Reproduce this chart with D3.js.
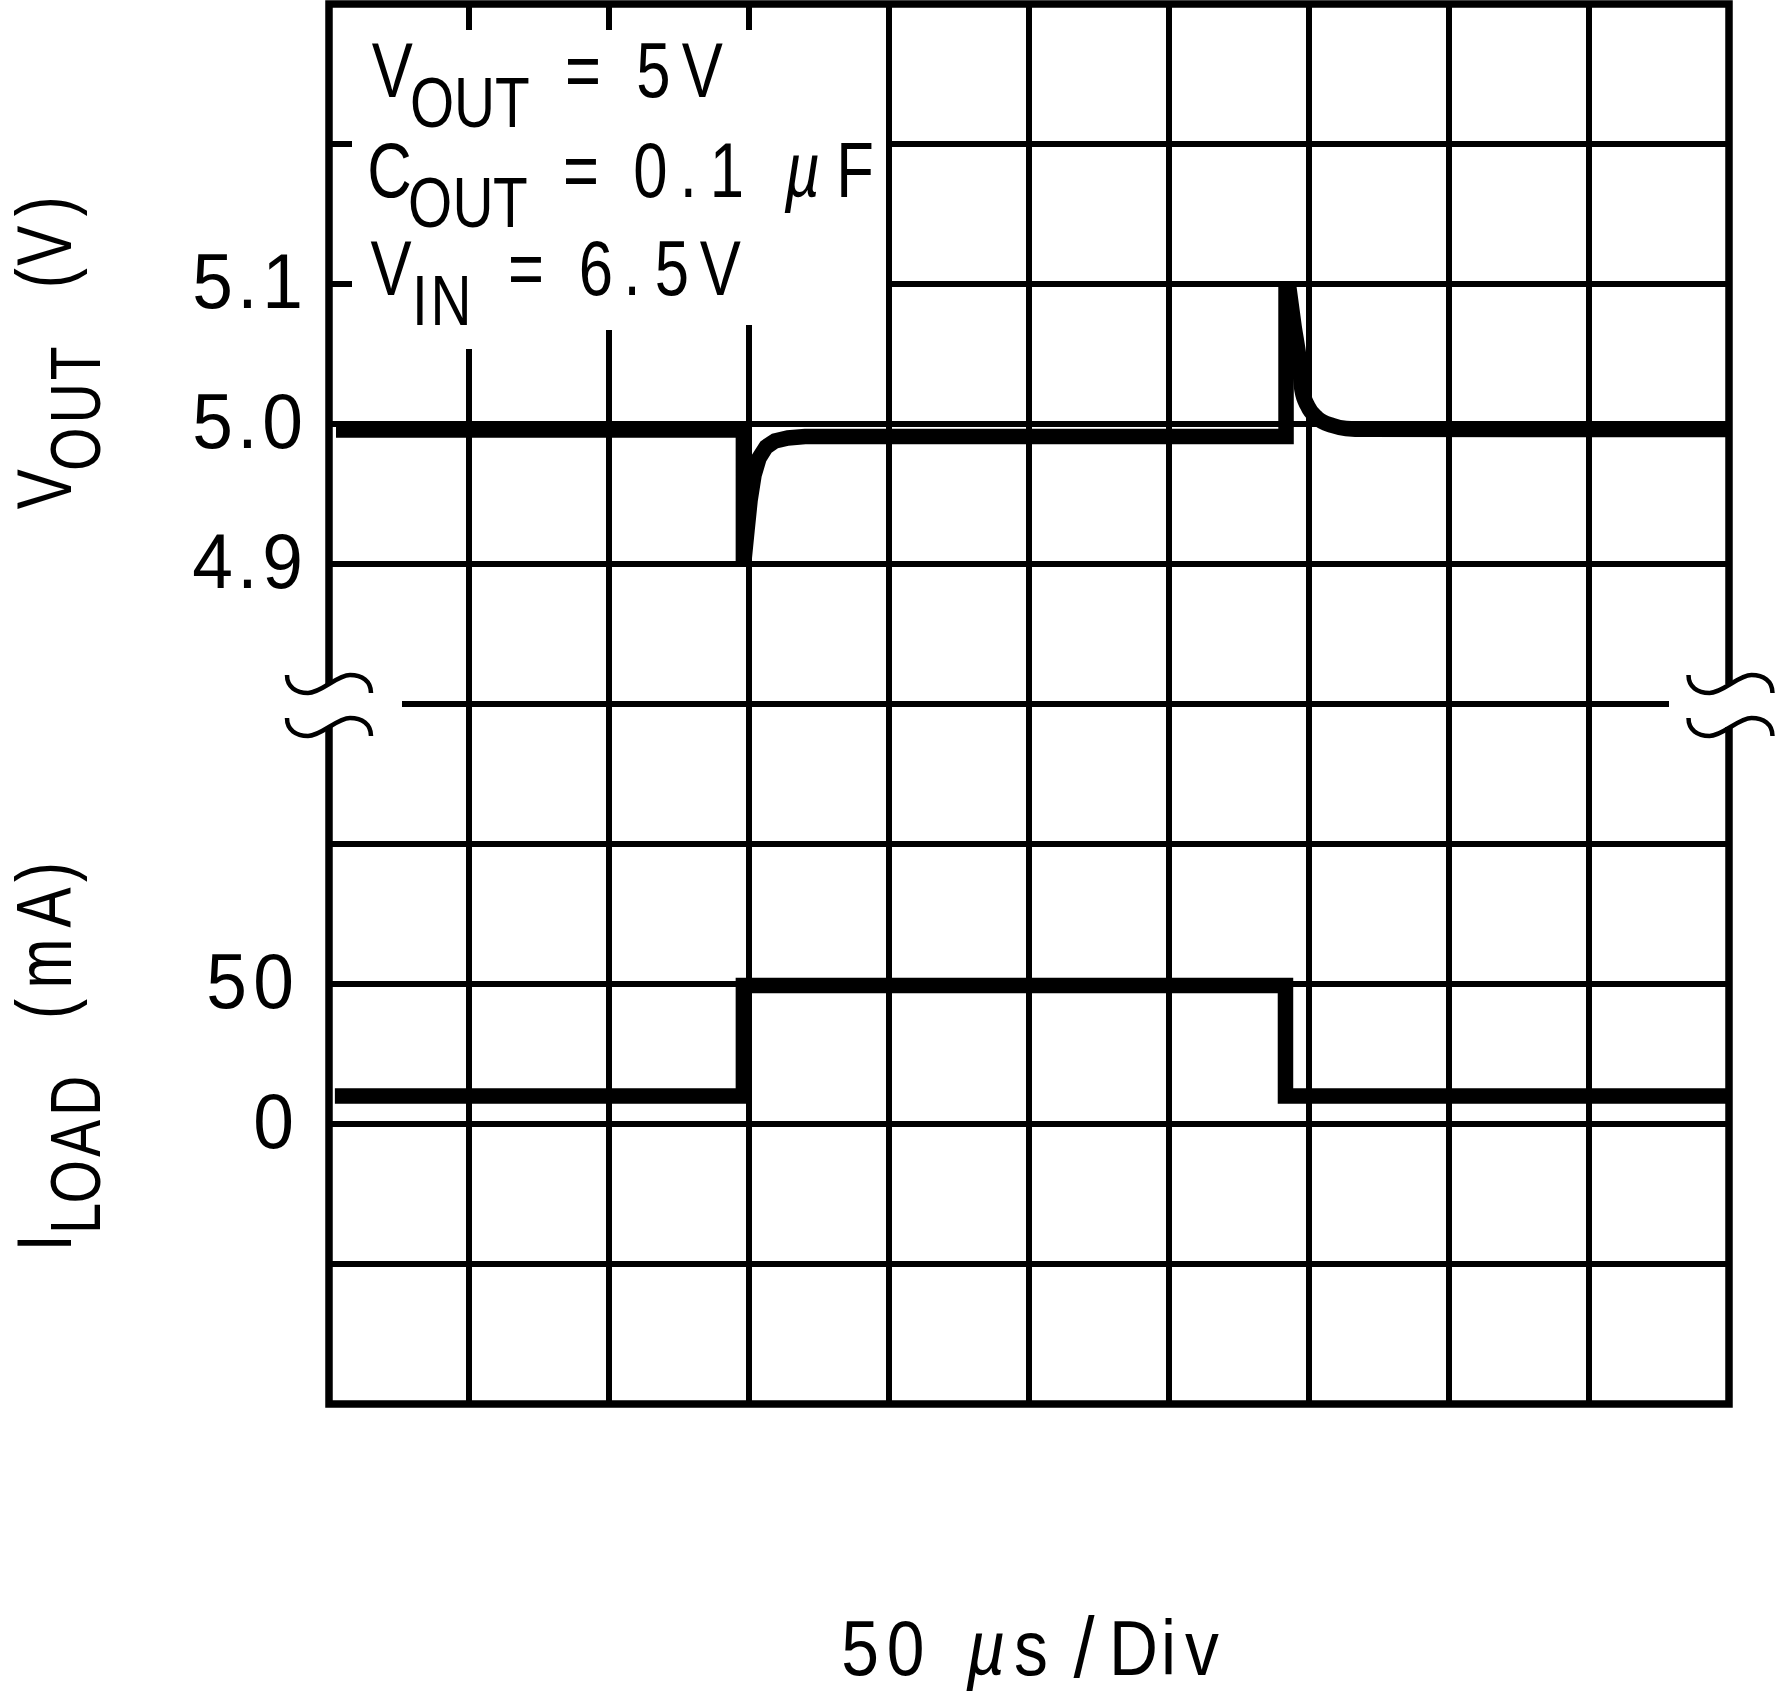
<!DOCTYPE html>
<html>
<head>
<meta charset="utf-8">
<script src="https://cdn.jsdelivr.net/npm/d3@7"></script>
<style>
html, body { margin: 0; padding: 0; background: #fff; }
svg { display: block; }
text { white-space: pre; }
</style>
</head>
<body>
<svg id="chart" width="1775" height="1696"></svg>
<script>
// ---------------- data ----------------
const timeDomain = [0, 500];            // µs, 50 µs / div, 10 divisions
const vDomain = [4.9, 5.1];             // V, 0.1 V / div
const iDomain = [0, 50];                // mA, 50 mA / div
const vTicks = [4.9, 5.0, 5.1];
const iTicks = [0, 50];

// load current step (mA)
const iLoadTime = [2.1, 148.0, 148.0, 341.6, 341.6, 499.6];
const iLoadMA   = [10, 10, 49.5, 49.5, 10, 10];

// output voltage: level, undershoot and recovery, loaded level, step up to the overshoot peak
const vMainTime = [2.5, 148.0, 148.0, 149.3, 150.4, 151.8, 153.6, 156.1, 159.3, 163.9, 170.0, 341.8, 341.8];
const vMainV    = [4.9958, 4.9958, 4.8985, 4.9243, 4.9457, 4.9636, 4.9757, 4.9836, 4.9879, 4.9900, 4.9910, 4.9910, 5.1];
// overshoot decay and settling back to nominal
const vDecayTime = [342.7, 344.7, 346.5, 347.5, 349.5, 352.9, 358.4, 363.2, 370.0, 499.6];
const vDecayV    = [5.099, 5.0693, 5.0457, 5.0243, 5.0129, 5.0043, 4.9989, 4.9968, 4.9962, 4.9960];

// texts
const noteMain = ["V", "C", "V"];
const noteSub  = ["OUT", "OUT", "IN"];
const noteRest = [" = 5V ", " = 0.1 µF ", " = 6.5V"];
const xTitle = ["50 µs", "/", "Div"];
const vTitle = ["V", "OUT", " (V)"];
const iTitle = ["I", "LOAD", " (mA)"];

// ---------------- layout ----------------
const FONT = "'Liberation Sans', Arial, Helvetica, sans-serif";
const SX = 0.85;           // default horizontal condensing of the lettering
const FS = 77, FSUB = 71;
const X0 = 329, X1 = 1729, Y0 = 4, Y1 = 1404;

const svg = d3.select("#chart");
svg.append("rect").attr("width", 1775).attr("height", 1696).attr("fill", "#fff");

const x = d3.scaleLinear().domain(timeDomain).range([X0, X1]);
const yV = d3.scaleLinear().domain(vDomain).range([Y0 + 560, Y0 + 280]);
const yI = d3.scaleLinear().domain(iDomain).range([Y0 + 1120, Y0 + 980]);

// ---- grid ----
const grid = svg.append("g").attr("stroke", "#000").attr("stroke-width", 6).attr("fill", "none");
const colTimes = d3.range(1, 10).map(k => k * 50);
grid.selectAll("line.v").data(colTimes).join("line")
  .attr("x1", d => x(d)).attr("x2", d => x(d)).attr("y1", Y0).attr("y2", Y1);
const rowsV = [5.2, 5.1, 5.0, 4.9];
const rowsI = [100, 50, 0, -50];
grid.selectAll("line.hv").data(rowsV).join("line")
  .attr("x1", X0).attr("x2", X1).attr("y1", d => yV(d)).attr("y2", d => yV(d));
grid.append("line").attr("x1", 402).attr("x2", 1669).attr("y1", yV(4.8)).attr("y2", yV(4.8));
grid.selectAll("line.hi").data(rowsI).join("line")
  .attr("x1", X0).attr("x2", X1).attr("y1", d => yI(d)).attr("y2", d => yI(d));

// white box behind the conditions text
const mask = svg.append("g").attr("fill", "#fff");
mask.append("rect").attr("x", 352).attr("y", 30).attr("width", 534).attr("height", 295);
mask.append("rect").attr("x", 445).attr("y", 320).attr("width", 50).attr("height", 29);
mask.append("rect").attr("x", 590).attr("y", 320).attr("width", 40).attr("height", 10);

// ---- traces ----
const zip = (a, b) => a.map((d, i) => [d, b[i]]);
const lineV = d3.line().x(d => x(d[0])).y(d => yV(d[1]));
const lineVs = d3.line().x(d => x(d[0])).y(d => yV(d[1])).curve(d3.curveMonotoneX);
const lineI = d3.line().x(d => x(d[0])).y(d => yI(d[1]));
const traces = svg.append("g").attr("fill", "none").attr("stroke", "#000")
  .attr("stroke-linejoin", "miter").attr("stroke-linecap", "butt").attr("stroke-width", 15.5);
traces.append("path").attr("d", lineI(zip(iLoadTime, iLoadMA)));
traces.append("path").attr("d", lineV(zip(vMainTime, vMainV)));
traces.append("path").attr("d", lineVs(zip(vDecayTime, vDecayV))).attr("stroke-linejoin", "round");

// ---- frame with axis breaks ----
const brkTop = 684, brkBot = 727;
const frame = svg.append("g").attr("fill", "none").attr("stroke", "#000").attr("stroke-width", 7.5)
  .attr("stroke-linejoin", "miter");
frame.append("path").attr("d", `M${X0},${brkTop}V${Y0}H${X1}V${brkTop}`);
frame.append("path").attr("d", `M${X0},${brkBot}V${Y1}H${X1}V${brkBot}`);
const breakShape = "M-42,-9C-42,3 -33,9 -21,9C-8,9 8,-9 21,-9C33,-9 42,-3 42,9";
const breaks = svg.append("g").attr("fill", "none").attr("stroke", "#000").attr("stroke-width", 4.5);
[[X0, brkTop], [X0, brkBot], [X1 + 1.5, brkTop], [X1 + 1.5, brkBot]].forEach(p => {
  breaks.append("path").attr("transform", `translate(${p[0]},${p[1]})`).attr("d", breakShape);
});

// ---------------- text helper ----------------
// segs: [{text, size, y, xs}] ; xs = centre of each glyph along the baseline (null for spaces)
function richText(transform, segs, sx = SX) {
  const g = svg.append("g").attr("transform", `${transform} scale(${sx},1)`);
  const t = g.append("text").attr("font-family", FONT).attr("fill", "#000");
  const spans = [];
  segs.forEach(seg => {
    [...seg.text].forEach((ch, k) => {
      const sp = t.append("tspan").text(ch).attr("font-size", seg.size).attr("y", seg.y);
      if (ch === "µ") sp.attr("font-style", "italic");
      spans.push({ sp, c: seg.xs[k] });
    });
  });
  const node = t.node();
  let prevEnd = 0;
  spans.forEach((o, i) => {
    const w = node.getSubStringLength(i, 1);
    const xx = (o.c != null) ? o.c / sx - w / 2 : prevEnd;
    o.sp.attr("x", xx);
    prevEnd = xx + w;
  });
}

// ---- conditions box (one text block) ----
const noteBase = [96.7, 196.7, 295];
const noteMainX = [[392.3], [389.4], [391]];
const noteSubX = [[432, 474.6, 512.3], [430, 473, 510.3], [420, 451]];
const noteRestX = [
  [null, 583, null, 653.5, 702.3, null],
  [null, 581, null, 650.5, 688.3, 727, null, 802.5, 855, null],
  [null, 526, null, 596, 632, 672, 720.4]
];
const noteSegs = [];
noteMain.forEach((m, i) => {
  noteSegs.push({ text: m, size: FS, y: noteBase[i], xs: noteMainX[i] });
  noteSegs.push({ text: noteSub[i], size: FSUB, y: noteBase[i] + 30, xs: noteSubX[i] });
  noteSegs.push({ text: noteRest[i], size: FS, y: noteBase[i], xs: noteRestX[i] });
});
richText("", noteSegs, 0.8);

// ---- tick labels ----
function tickCentres(label, right) {
  const chars = [...label];
  const xs = new Array(chars.length);
  let c = right;
  for (let i = chars.length - 1; i >= 0; i--) {
    xs[i] = c;
    if (i > 0) {
      const bothDigits = chars[i] !== "." && chars[i - 1] !== ".";
      c -= bothDigits ? 47 : 35;
    }
  }
  return xs;
}
vTicks.forEach(v => {
  const lab = d3.format(".1f")(v);
  richText("", [{ text: lab, size: FS, y: yV(v) + 24, xs: tickCentres(lab, 282.5) }], 0.95);
});
iTicks.forEach(v => {
  const lab = d3.format("d")(v);
  richText("", [{ text: lab, size: FS, y: yI(v) + 24, xs: tickCentres(lab, 273.5) }], 0.95);
});

// ---- axis titles ----
richText("translate(70.7,508.3) rotate(-90)", [
  { text: vTitle[0], size: FS, y: 0, xs: [19.2] },
  { text: vTitle[1], size: FSUB, y: 29.3, xs: [59.2, 105, 145] },
  { text: vTitle[2], size: FS, y: 0, xs: [null, 230, 262.5, 302] }
], 0.78);
richText("translate(70.7,1250) rotate(-90)", [
  { text: iTitle[0], size: FS, y: 0, xs: [7] },
  { text: iTitle[1], size: FSUB, y: 29.3, xs: [31.7, 68.3, 111.7, 154.2] },
  { text: iTitle[2], size: FS, y: 0, xs: [null, 241, 286.5, 342.5, 378] }
], 0.78);
richText("", [
  { text: xTitle[0], size: FS, y: 1675, xs: [860, 905.5, null, 986, 1031] },
  { text: xTitle[1], size: 86, y: 1677, xs: [1084] },
  { text: xTitle[2], size: FS, y: 1675, xs: [1133.5, 1168.5, 1202] }
], 0.88);
</script>
</body>
</html>
